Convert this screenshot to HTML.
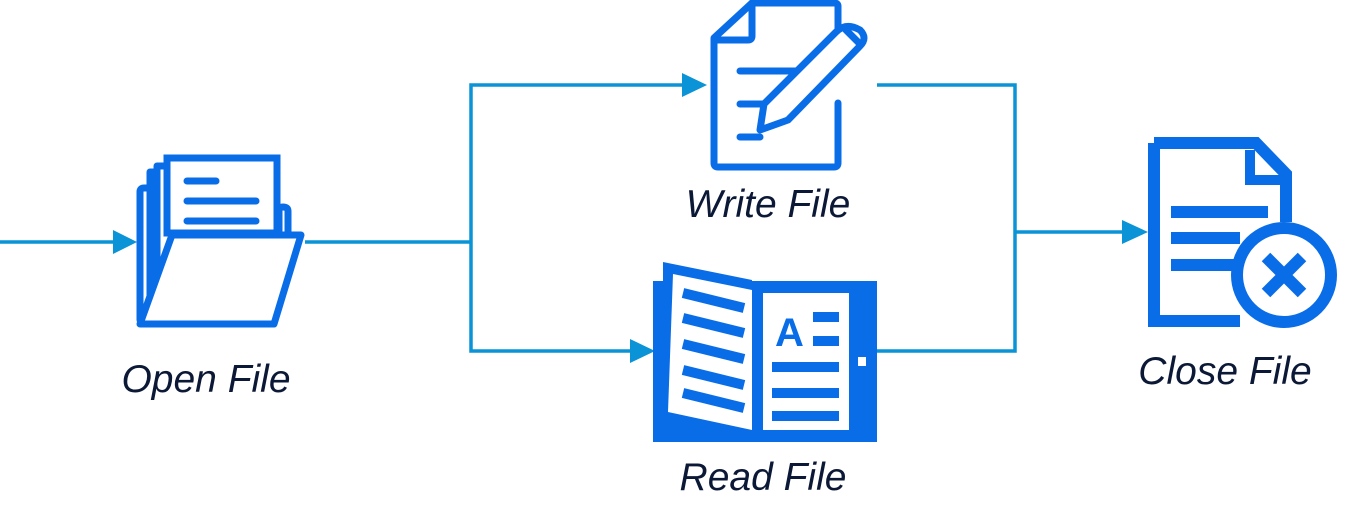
<!DOCTYPE html>
<html><head><meta charset="utf-8"><style>
html,body{margin:0;padding:0;background:#fff;}
svg{display:block;}
text{font-family:"Liberation Sans",sans-serif;font-style:italic;font-size:39px;fill:#0b1836;}
</style></head><body>
<svg width="1346" height="526" viewBox="0 0 1346 526">
<g stroke="#0a93d6" stroke-width="3.5" fill="none">
<line x1="0" y1="242" x2="120" y2="242"/>
<line x1="305" y1="242" x2="471" y2="242"/>
<polyline points="690,85 471,85 471,351 640,351"/>
<polyline points="877,85 1015,85 1015,351 877,351"/>
<line x1="1015" y1="232" x2="1130" y2="232"/>
</g>
<g fill="#0a93d6">
<polygon points="113,230 137,242 113,254"/>
<polygon points="682,73 707,85 682,97"/>
<polygon points="630,339 655,351 630,363"/>
<polygon points="1122,220 1148,232 1122,244"/>
</g>
<g fill="none" stroke="#0a6de8" stroke-width="7" stroke-linejoin="round" stroke-linecap="round">
<path d="M140,320 L140,192 Q140,188 144,188 L150,188"/>
<path d="M150,300 L150,172 L157,172"/>
<path d="M157,285 L157,166 L165,166"/>
<rect x="167" y="158" width="110" height="75" fill="#fff" stroke-linejoin="miter"/>
<path d="M279,233 L279,210 Q279,207 283,207 Q288,207 288,211 L288,233"/>
<polygon points="172,235 301,235 274,324 140,324" fill="#fff"/>
<line x1="187" y1="181" x2="216" y2="181"/>
<line x1="187" y1="201" x2="256" y2="201"/>
<line x1="187" y1="221" x2="256" y2="221"/>
<path d="M838,35 L838,6 Q838,3 834,3 L752,3 L714,38 L714,163 Q714,167 718,167 L834,167 Q838,167 838,163 L838,103"/>
<path d="M752,3 L752,36 Q752,40 748,40 L714,40"/>
<line x1="740" y1="71" x2="806" y2="71"/>
<line x1="740" y1="104" x2="770" y2="104"/>
<line x1="740" y1="137" x2="760" y2="137"/>
<path d="M860,30 Q868,38 860,46 L788,120 L760,130 L764,104 L836,32 Q846,22 860,30 Z" fill="#fff"/>
<line x1="846" y1="30" x2="860" y2="44"/>
</g>
<rect x="653" y="281" width="224" height="161" fill="#0a6de8"/>
<polygon points="663,262 752,280 752,294 673,280 673,410 752,426 752,440 663,440" fill="#0a6de8"/>
<polygon points="673,274 752,290 752,430 668,412" fill="#fff"/>
<rect x="763" y="293" width="86" height="137" fill="#fff"/>
<g stroke="#0a6de8" stroke-width="10">
<line x1="683" y1="293" x2="744" y2="308"/>
<line x1="683" y1="318" x2="744" y2="333"/>
<line x1="683" y1="344" x2="744" y2="359"/>
<line x1="683" y1="370" x2="744" y2="385"/>
<line x1="683" y1="393" x2="744" y2="408"/>
<line x1="813" y1="317" x2="839" y2="317"/>
<line x1="813" y1="341" x2="839" y2="341"/>
<line x1="772" y1="367" x2="839" y2="367"/>
<line x1="772" y1="393" x2="839" y2="393"/>
<line x1="772" y1="416" x2="839" y2="416"/>
</g>
<text x="775" y="346" style="font-style:normal;font-weight:bold;font-size:40px;fill:#0a6de8">A</text>
<rect x="858" y="357" width="8" height="9" fill="#fff"/>
<path d="M1154,143 L1256,143 L1286,174 L1286,222" fill="none" stroke="#0a6de8" stroke-width="12"/>
<path d="M1154,143 L1154,321 L1240,321" fill="none" stroke="#0a6de8" stroke-width="12"/>
<path d="M1250,150 L1250,180 L1286,180" fill="none" stroke="#0a6de8" stroke-width="10"/>
<g stroke="#0a6de8" stroke-width="12">
<line x1="1171" y1="212" x2="1268" y2="212"/>
<line x1="1171" y1="238" x2="1240" y2="238"/>
<line x1="1171" y1="265" x2="1235" y2="265"/>
</g>
<circle cx="1284" cy="275" r="47" fill="#fff" stroke="#0a6de8" stroke-width="12"/>
<g stroke="#0a6de8" stroke-width="12">
<line x1="1266" y1="257" x2="1302" y2="293"/>
<line x1="1302" y1="257" x2="1266" y2="293"/>
</g>
<text x="206" y="392" text-anchor="middle">Open File</text>
<text x="768" y="217" text-anchor="middle">Write File</text>
<text x="763" y="490" text-anchor="middle">Read File</text>
<text x="1225" y="384" text-anchor="middle">Close File</text>
</svg>
</body></html>
